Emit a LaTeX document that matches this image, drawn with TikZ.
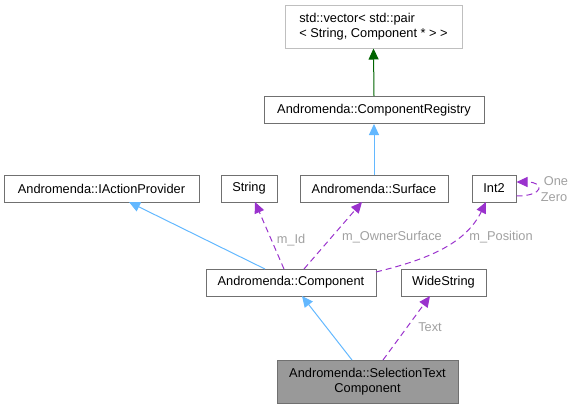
\documentclass[tikz,border=0pt]{standalone}
\usepackage{fontspec}
\setmainfont{Liberation Sans}
\usetikzlibrary{arrows.meta}
\definecolor{inh}{HTML}{63B8FF}
\definecolor{usg}{HTML}{9A32CD}
\definecolor{tmpl}{HTML}{006400}
\definecolor{lbl}{HTML}{A0A0A0}
\definecolor{bord}{HTML}{707070}
\definecolor{extbord}{HTML}{BFBFBF}
\definecolor{curfill}{HTML}{999999}
\begin{document}
\begin{tikzpicture}[x=1pt,y=-1pt,
  font=\fontsize{12.8}{15.5}\selectfont,
  box/.style={draw=bord, line width=1pt, fill=white, minimum height=27pt, inner sep=0pt},
  extbox/.style={box, draw=extbord, minimum height=43pt, align=left},
  curbox/.style={box, fill=curfill, minimum height=43pt, align=center},
  tip/.style={-{Triangle[length=11pt,width=10pt]}},
  inherit/.style={tip, draw=inh, line width=1pt},
  templ/.style={tip, draw=tmpl, line width=1pt},
  usage/.style={tip, draw=usg, line width=1pt, dash pattern=on 6pt off 4pt},
  elabel/.style={text=lbl, inner sep=1pt}]
\useasboundingbox (0,0) rectangle (573,408);

\node[extbox, minimum width=177pt] (vec) at (373.5,26.5) {std::vector< std::pair\\< String, Component * > >};
\node[box, minimum width=220pt] (reg) at (374,110) {Andromenda::ComponentRegistry};
\node[box, minimum width=195pt] (iap) at (101.5,188.5) {Andromenda::IActionProvider};
\node[box, minimum width=56pt] (str) at (249,188.5) {String};
\node[box, minimum width=148pt] (surf) at (374,188.5) {Andromenda::Surface};
\node[box, minimum width=44pt] (int2) at (494,188.5) {Int2};
\node[box, minimum width=170pt] (comp) at (291,282.5) {Andromenda::Component};
\node[box, minimum width=85pt] (wstr) at (443.5,282.5) {WideString};
\node[curbox, minimum width=181pt] (sel) at (367.5,381.5) {Andromenda::SelectionText\\Component};

\coordinate (c1) at (265,269);
\coordinate (c1t) at (129,202);
\coordinate (c2) at (284,269);
\coordinate (c2t) at (255,202);
\coordinate (c3) at (304,269);
\coordinate (c3t) at (362,202);
\coordinate (c4) at (376,272);
\coordinate (c4t) at (486,202);
\coordinate (s1) at (352,360);
\coordinate (s1t) at (302,296);
\coordinate (s2) at (383,360);
\coordinate (s2t) at (430,296);

\draw[templ] (reg.north) -- (vec.south);
\draw[inherit] (surf.north) -- (reg.south);
\draw[inherit] (c1) -- (c1t);
\draw[inherit] (s1) -- (s1t);
\draw[usage] (c2) -- (c2t);
\draw[usage] (c3) -- (c3t);
\draw[usage] (c4) .. controls (425,260) and (465,245) .. (c4t);
\draw[usage] (s2) -- (s2t);
\draw[usage] ([yshift=-7.5pt]int2.east) .. controls +(28,0) and +(28,0) .. ([yshift=6.5pt]int2.east);

\node[elabel] (lid) at (291,240) {m\_Id};
\node[elabel] (lown) at (392,237) {m\_OwnerSurface};
\node[elabel] (lpos) at (501,237) {m\_Position};
\node[elabel] (lone) at (556,181) {One};
\node[elabel] (lzero) at (554,197) {Zero};
\node[elabel] (ltext) at (430,327) {Text};
\end{tikzpicture}
\end{document}
